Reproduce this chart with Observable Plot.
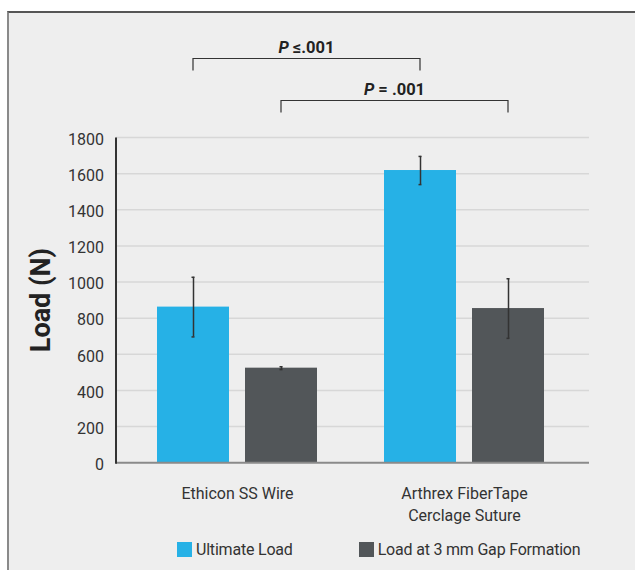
<!DOCTYPE html>
<html>
<head>
<meta charset="utf-8">
<script src="https://cdn.jsdelivr.net/npm/d3@7"></script>
<script src="https://cdn.jsdelivr.net/npm/@observablehq/plot@0.6"></script>
<style>
  html, body { margin: 0; padding: 0; background: #ffffff; }
  body { width: 635px; height: 570px; overflow: hidden; position: relative; font-family: Roboto, "Open Sans", sans-serif; }
  #panel { position: absolute; left: 7px; top: 11px; width: 640px; height: 580px; background: #eeeeee; border-left: 2px solid #8a8a8a; border-top: 2px solid #555555; }
  #chart { position: absolute; left: 0; top: 0; }
  #chart svg { background: transparent; overflow: visible; }
  #legend { position: absolute; left: 177px; top: 540px; display: flex; align-items: center; font-size: 16px; color: #333333; letter-spacing: -0.2px; }
  .item { display: flex; align-items: center; }
  .item + .item { margin-left: 66px; }
  .sw { width: 15px; height: 15px; margin-right: 4px; }
</style>
</head>
<body>
<div id="panel"></div>
<div id="chart"></div>
<div id="legend"></div>
<script>
// ---- Data ----
const groups = ["Ethicon SS Wire", "Arthrex FiberTape\nCerclage Suture"];
const series = ["Ultimate Load", "Load at 3 mm Gap Formation"];
const ultimateLoad = [864, 1620];
const ultimateSD = [165, 78];
const gapLoad = [526, 856];
const gapSD = [8, 165];
const yTicks = [0, 200, 400, 600, 800, 1000, 1200, 1400, 1600, 1800];
const yLabel = "Load (N)";
const comparisonLabels = ["≤.001", "= .001"];
const comparisonSeries = [series[0], series[1]];
const colors = ["#26b1e6", "#525659"];

const rows = groups.flatMap((g, i) => [
  {group: g, series: series[0], value: ultimateLoad[i], sd: ultimateSD[i]},
  {group: g, series: series[1], value: gapLoad[i], sd: gapSD[i]}
]);

const comparisons = comparisonLabels.map((label, i) => ({label, series: comparisonSeries[i], from: groups[0], to: groups[1]}));

// Grid lines, y tick labels and y label across the whole frame, using the plot's scales
function gridRender(index, scales) {
  const {y, fx} = scales;
  const [left, right] = fx.range();
  const g = d3.create("svg:g");
  for (const t of yTicks) {
    if (t !== 0) {
      g.append("line")
        .attr("x1", left).attr("x2", right)
        .attr("y1", y(t)).attr("y2", y(t))
        .attr("stroke", "#d7d7d7").attr("stroke-width", 1.5);
    }
    g.append("text")
      .attr("x", left - 12).attr("y", y(t)).attr("dy", "0.45em")
      .attr("text-anchor", "end")
      .attr("font-family", "Roboto, sans-serif").attr("font-size", 16)
      .attr("fill", "#333").text(t);
  }
  const ym = (y(yTicks[0]) + y(yTicks[yTicks.length - 1])) / 2;
  g.append("text")
    .attr("transform", `translate(${left - 76},${ym}) rotate(-90)`)
    .attr("dy", "0.36em")
    .attr("text-anchor", "middle")
    .attr("font-family", "Roboto, sans-serif").attr("font-size", 27).attr("font-weight", "bold")
    .attr("fill", "#222").text(yLabel);
  return g.node();
}

// Zero baseline and left axis line
function baseRender(index, scales) {
  const {y, fx} = scales;
  const [left, right] = fx.range();
  const g = d3.create("svg:g");
  g.append("line")
    .attr("x1", left).attr("x2", right)
    .attr("y1", y(0)).attr("y2", y(0))
    .attr("stroke", "#8a8a8a").attr("stroke-width", 2);
  g.append("line")
    .attr("x1", left).attr("x2", left)
    .attr("y1", y(yTicks[yTicks.length - 1])).attr("y2", y(0) + 1)
    .attr("stroke", "#333").attr("stroke-width", 2);
  return g.node();
}

// Brackets drawn using the plot's own fx / x / y scales
function bracketRender(index, scales) {
  const {fx, x, y} = scales;
  const g = d3.create("svg:g");
  const x0 = x.range()[0];
  const cx = (grp, s) => fx(grp) + x(s) - x0 + x.bandwidth() / 2;
  const top = y(yTicks[yTicks.length - 1]);
  const levels = [top - 79, top - 37];
  comparisons.forEach((c, i) => {
    const x1 = cx(c.from, c.series), x2 = cx(c.to, c.series);
    const yb = levels[i];
    g.append("path")
      .attr("d", `M${x1},${yb + 12}V${yb}H${x2}V${yb + 12}`)
      .attr("fill", "none").attr("stroke", "#333").attr("stroke-width", 1.2);
    const t = g.append("text")
      .attr("x", (x1 + x2) / 2).attr("y", yb - 6)
      .attr("text-anchor", "middle")
      .attr("font-family", "Roboto, sans-serif")
      .attr("font-size", 16.5).attr("font-weight", "bold").attr("fill", "#222");
    t.append("tspan").attr("font-style", "italic").text("P");
    t.append("tspan").text(" " + c.label);
  });
  return g.node();
}

const plot = Plot.plot({
  width: 635,
  height: 530,
  marginLeft: 116,
  marginRight: 46,
  marginTop: 137.5,
  marginBottom: 67.3,
  style: {fontFamily: "Roboto, sans-serif", background: "transparent", color: "#333"},
  fx: {domain: groups, paddingInner: 0.1, paddingOuter: 0.0873, align: 0.46, axis: null},
  x: {domain: series, paddingInner: 0.18, paddingOuter: 0.243, axis: null},
  y: {domain: [0, 1800], axis: null},
  color: {domain: series, range: colors},
  marks: [
    Plot.text([0], {facet: "super", x: null, y: null, render: gridRender}),
    Plot.barY(rows, {fx: "group", x: "series", y: "value", fill: "series"}),
    Plot.ruleX(rows, {fx: "group", x: "series", y1: d => d.value - d.sd, y2: d => d.value + d.sd, stroke: "#333", strokeWidth: 1.5}),
    Plot.tickY(rows, {fx: "group", x: "series", y: d => d.value - d.sd, stroke: "#333", strokeWidth: 1.5, insetLeft: 34.5, insetRight: 34.5}),
    Plot.tickY(rows, {fx: "group", x: "series", y: d => d.value + d.sd, stroke: "#333", strokeWidth: 1.5, insetLeft: 34.5, insetRight: 34.5}),
    Plot.text([0], {facet: "super", x: null, y: null, render: baseRender}),
    Plot.text(groups, {fx: d => d, x: null, y: null, text: d => d, frameAnchor: "bottom", lineAnchor: "top", dy: 20, fontSize: 16, lineHeight: 1.375, fill: "#333"}),
    Plot.text(comparisons, {facet: "super", x: null, y: null, render: bracketRender})
  ]
});
document.getElementById("chart").appendChild(plot);

const legend = d3.select("#legend");
series.forEach((s, i) => {
  const item = legend.append("div").attr("class", "item");
  item.append("div").attr("class", "sw").style("background", colors[i]);
  item.append("span").text(s);
});
</script>
</body>
</html>
